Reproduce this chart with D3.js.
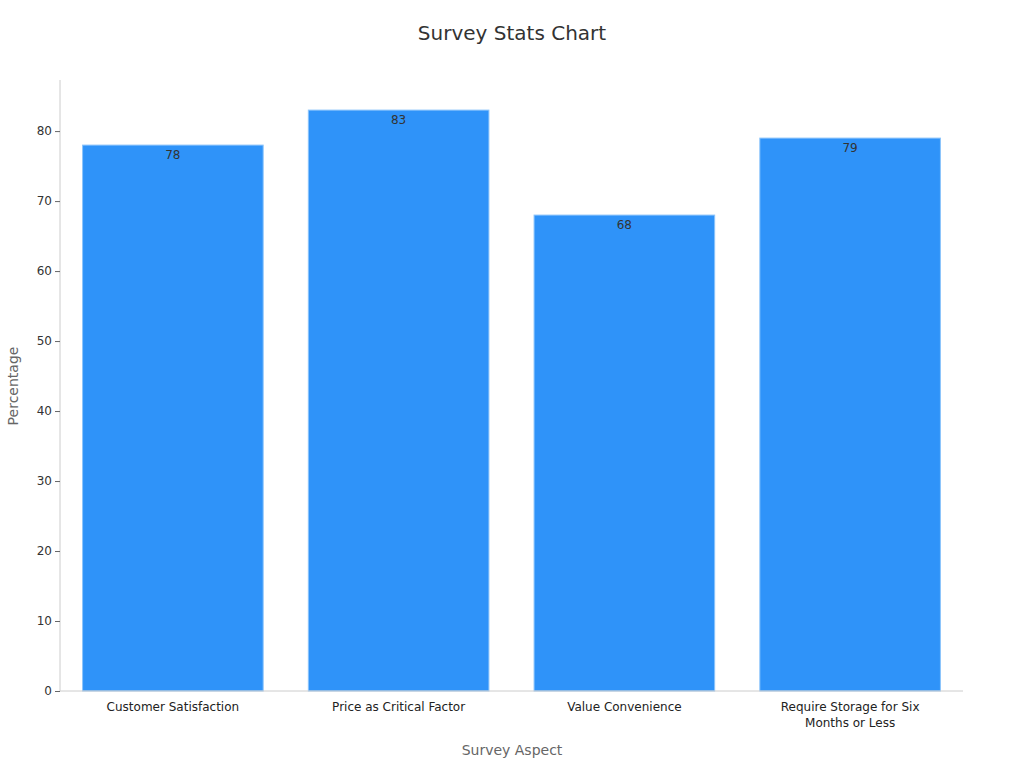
<!DOCTYPE html>
<html><head><meta charset="utf-8">
<script src="https://cdn.jsdelivr.net/npm/d3@7"></script>
<style>body{margin:0;background:#fff;font-family:"DejaVu Sans",sans-serif}</style>
</head><body><svg id="c" width="1024" height="768"></svg>
<script>
const categories=["Customer Satisfaction","Price as Critical Factor","Value Convenience","Require Storage for Six Months or Less"];
const values=[78,83,68,79];
const yTicks=[0,10,20,30,40,50,60,70,80];
const svg=d3.select("#c");
const m={l:60,r:963,t:80,b:691};
const x=d3.scaleBand().domain(categories).range([m.l,m.r]).paddingInner(0.2).paddingOuter(0.1);
const y=d3.scaleLinear().domain([0,87.3]).range([m.b,m.t]);
svg.append("text").attr("x",512).attr("y",40).attr("text-anchor","middle").attr("font-size",20).attr("fill","#333").text("Survey Stats Chart");
svg.selectAll("rect.b").data(values).join("rect").attr("x",(d,i)=>x(categories[i])).attr("y",d=>y(d)).attr("width",x.bandwidth()).attr("height",d=>m.b-y(d)).attr("fill","#2f93f9").attr("stroke","#8cc4fb").attr("stroke-width",1);
svg.selectAll("text.v").data(values).join("text").attr("x",(d,i)=>x(categories[i])+x.bandwidth()/2).attr("y",d=>y(d)+14).attr("text-anchor","middle").attr("font-size",12).attr("fill","#333").text(d=>d);
const ya=svg.append("g").attr("transform",`translate(${m.l},0)`).call(d3.axisLeft(y).tickValues(yTicks).tickSize(5));
ya.select(".domain").attr("stroke","#ccc").attr("d",`M0,${m.b}V${m.t}`);
ya.selectAll(".tick line").attr("stroke","#666");
ya.selectAll("text").attr("font-size",12).attr("fill","#333").attr("font-family","DejaVu Sans");
const xa=svg.append("g").attr("transform",`translate(0,${m.b})`).call(d3.axisBottom(x).tickSize(0));
xa.select(".domain").attr("stroke","#ccc").attr("d",`M${m.l},0H${m.r}`);
xa.selectAll(".tick text").remove();
xa.selectAll(".tick").each(function(d){
  const g=d3.select(this);
  const lines=d.length>30?["Require Storage for Six","Months or Less"]:[d];
  lines.forEach((l,i)=>g.append("text").attr("y",20+i*16).attr("text-anchor","middle").attr("font-size",12).attr("fill","#222").attr("font-family","DejaVu Sans").text(l));
});
svg.append("text").attr("x",512).attr("y",755).attr("text-anchor","middle").attr("font-size",14).attr("fill","#666").text("Survey Aspect");
svg.append("text").attr("transform","translate(18,386) rotate(-90)").attr("text-anchor","middle").attr("font-size",14).attr("fill","#666").text("Percentage");
</script></body></html>
